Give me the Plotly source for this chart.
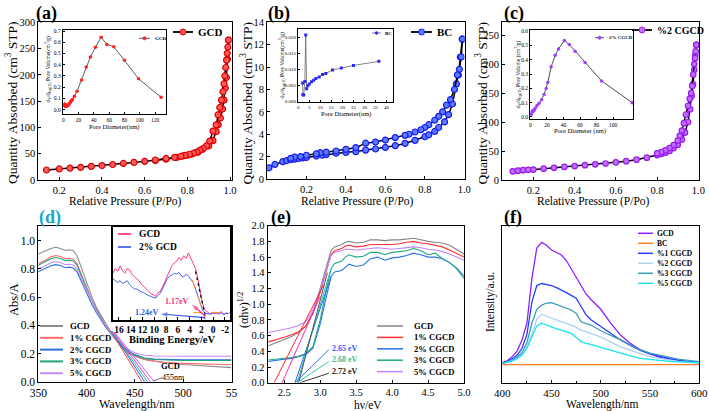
import plotly.graph_objects as go

W, H = 709, 411
SERIF = "Liberation Serif"

# ===================== DATA =====================
# (a) GCD N2 isotherm
a_ads_p = [0.14, 0.20, 0.25, 0.30, 0.35, 0.40, 0.45, 0.50, 0.55, 0.60, 0.65, 0.70, 0.75, 0.78, 0.80, 0.82, 0.85, 0.87, 0.90, 0.92, 0.935, 0.945, 0.955, 0.965, 0.972, 0.978, 0.983, 0.988, 0.993]
a_ads_q = [19, 21, 22.5, 24, 26, 27.5, 29.5, 31.5, 33.5, 35.5, 37, 39.5, 43, 46, 47, 49, 53, 58, 65, 75, 92, 105, 118, 135, 152, 175, 195, 230, 266]
a_des_p = [0.993, 0.99, 0.987, 0.984, 0.98, 0.976, 0.972, 0.967, 0.96, 0.952, 0.944, 0.935, 0.92, 0.905, 0.89, 0.875, 0.86, 0.845, 0.83, 0.81, 0.79, 0.77, 0.74, 0.70, 0.65]
a_des_q = [266, 253, 241, 228, 214, 198, 183, 168, 152, 138, 124, 105, 93, 74, 65, 60, 57, 53, 51, 49, 47, 45, 43, 41, 38]
# (a) inset pore size distribution
a_ins_d = [1.5, 2.0, 2.5, 3.0, 3.5, 4.0, 4.5, 5.0, 6.0, 7.0, 8.0, 9.0, 10.0, 11.0, 12.0, 14.5, 18.0, 24.0, 30.0, 35.5, 42.0, 49.5, 57.0, 66.0, 80.0, 98.5, 128.0]
a_ins_v = [0.04, 0.05, 0.03, 0.045, 0.028, 0.04, 0.03, 0.035, 0.04, 0.045, 0.055, 0.065, 0.075, 0.085, 0.09, 0.12, 0.165, 0.265, 0.38, 0.47, 0.555, 0.645, 0.58, 0.56, 0.44, 0.275, 0.11]

# (b) BC isotherm
b_ads_p = [0.01, 0.04, 0.08, 0.10, 0.12, 0.14, 0.16, 0.18, 0.20, 0.25, 0.28, 0.30, 0.35, 0.40, 0.45, 0.50, 0.55, 0.60, 0.65, 0.70, 0.75, 0.80, 0.82, 0.85, 0.87, 0.90, 0.92, 0.94, 0.96, 0.97, 0.98, 0.99]
b_ads_q = [1.0, 1.3, 1.55, 1.65, 1.72, 1.78, 1.83, 1.88, 1.93, 2.05, 2.12, 2.18, 2.3, 2.38, 2.45, 2.58, 2.68, 2.82, 2.98, 3.18, 3.45, 3.78, 3.95, 4.25, 4.6, 5.1, 5.75, 6.7, 8.5, 9.3, 10.9, 12.5]
b_des_p = [0.99, 0.985, 0.975, 0.965, 0.95, 0.93, 0.91, 0.89, 0.87, 0.85, 0.82, 0.80, 0.78, 0.75, 0.72, 0.70, 0.65, 0.60, 0.55, 0.50, 0.45, 0.40, 0.35, 0.30, 0.27, 0.25, 0.20, 0.17, 0.14, 0.12]
b_des_q = [12.5, 10.9, 9.8, 9.3, 8.0, 7.1, 6.6, 6.0, 5.6, 5.25, 4.85, 4.6, 4.4, 4.2, 4.0, 3.9, 3.7, 3.48, 3.3, 3.2, 2.8, 2.65, 2.5, 2.4, 2.35, 2.25, 2.12, 2.0, 1.95, 1.85]
# (b) inset
b_ins_d = [2.0, 2.1, 2.5, 3.0, 3.4, 3.8, 4.3, 5.0, 6.0, 7.0, 8.0, 9.5, 11.0, 12.5, 15.5, 19.5, 25.0, 36.5]
b_ins_v = [0.0058, 0.0022, 0.0021, 0.0063, 0.0208, 0.0040, 0.0050, 0.0055, 0.0062, 0.0067, 0.0072, 0.0077, 0.0085, 0.0088, 0.0099, 0.0105, 0.0113, 0.0126]

# (c) 2% CGCD isotherm
c_ads_p = [0.10, 0.125, 0.15, 0.175, 0.20, 0.25, 0.30, 0.35, 0.40, 0.45, 0.50, 0.55, 0.60, 0.65, 0.70, 0.75, 0.80, 0.82, 0.84, 0.86, 0.88, 0.90, 0.92, 0.935, 0.95, 0.96, 0.967, 0.974, 0.98, 0.985, 0.99]
c_ads_q = [15, 16, 17, 17.5, 18, 19.5, 21, 22.5, 24, 25.5, 27, 28.5, 30.5, 32.5, 35, 38.5, 43, 45, 47, 50, 55, 61, 70, 82, 100, 122, 145, 165, 190, 215, 233]
c_des_p = [0.99, 0.987, 0.984, 0.98, 0.975, 0.97, 0.965, 0.958, 0.95, 0.94, 0.93, 0.92, 0.91, 0.90, 0.88, 0.86, 0.84, 0.82, 0.80]
c_des_q = [233, 222, 210, 200, 182, 162, 150, 140, 128, 113, 98, 85, 76, 68, 60, 55, 51, 48, 46]
# (c) inset
c_ins_d = [1.2, 2.0, 2.8, 3.6, 4.8, 6.0, 8.0, 10.5, 13.5, 16.5, 19.0, 21.0, 25.0, 30.0, 34.0, 41.0, 47.0, 54.0, 66.0, 86.0, 123.0]
c_ins_v = [0.02, 0.035, 0.045, 0.04, 0.05, 0.063, 0.08, 0.096, 0.12, 0.157, 0.198, 0.24, 0.35, 0.43, 0.475, 0.534, 0.506, 0.459, 0.38, 0.252, 0.10]

# (d) UV-vis absorbance
d_names = ["GCD", "1% CGCD", "2% CGCD", "3% CGCD", "5% CGCD"]
d_colors = ["#8c8c8c", "#ff6b6b", "#2f6fdc", "#22a37c", "#c48cf2"]
d_wl = [350, 357, 363, 368, 373, 378, 382, 386, 390, 395, 400, 405, 410, 415, 420, 425, 430, 435, 440, 445, 450, 455, 460, 470, 480, 500, 520, 550]
d_gcd = [0.905, 0.925, 0.945, 0.953, 0.945, 0.930, 0.935, 0.930, 0.895, 0.80, 0.70, 0.61, 0.53, 0.465, 0.41, 0.355, 0.30, 0.255, 0.22, 0.195, 0.18, 0.168, 0.158, 0.145, 0.135, 0.122, 0.113, 0.10]
d_p1 = [0.838, 0.860, 0.885, 0.895, 0.888, 0.872, 0.875, 0.870, 0.840, 0.755, 0.665, 0.585, 0.515, 0.455, 0.40, 0.35, 0.305, 0.26, 0.225, 0.20, 0.182, 0.168, 0.158, 0.145, 0.138, 0.130, 0.125, 0.12]
d_p2 = [0.780, 0.800, 0.822, 0.830, 0.824, 0.808, 0.812, 0.806, 0.780, 0.705, 0.625, 0.555, 0.49, 0.435, 0.385, 0.34, 0.30, 0.265, 0.235, 0.21, 0.192, 0.178, 0.168, 0.160, 0.157, 0.155, 0.155, 0.155]
d_p3 = [0.825, 0.848, 0.872, 0.880, 0.874, 0.858, 0.862, 0.856, 0.828, 0.745, 0.66, 0.58, 0.51, 0.45, 0.395, 0.345, 0.30, 0.262, 0.23, 0.205, 0.188, 0.175, 0.165, 0.157, 0.153, 0.150, 0.150, 0.150]
d_p5 = [0.800, 0.820, 0.843, 0.850, 0.845, 0.830, 0.833, 0.828, 0.800, 0.725, 0.645, 0.572, 0.505, 0.448, 0.395, 0.348, 0.308, 0.275, 0.245, 0.222, 0.205, 0.195, 0.188, 0.182, 0.180, 0.180, 0.180, 0.180]
# (d) absorption-edge tangents: x-intercepts and upper anchor points
d_tan_x0 = [457, 460, 463, 466, 470]
d_tan_x1 = [425, 426, 427, 428, 429]
d_tan_y1 = [0.36, 0.36, 0.35, 0.35, 0.35]
d_tan_colors = ["#ff3b3b", "#1f5fff", "#1fbf8f", "#ff33cc", "#b266ff"]

# (d) inset: XPS valence band
be_x = [17.0, 16.6, 16.2, 15.8, 15.4, 15.0, 14.6, 14.2, 13.8, 13.4, 13.0, 12.6, 12.2, 11.8, 11.4, 11.0, 10.6, 10.2, 9.8, 9.4, 9.0, 8.6, 8.2, 7.8, 7.4, 7.0, 6.6, 6.2, 5.8, 5.4, 5.0, 4.6, 4.2, 3.8, 3.4, 3.0, 2.6, 2.2, 1.8, 1.4, 1.0, 0.6, 0.2, -0.2, -0.6, -1.0, -1.4, -1.8, -2.2, -2.6]
be_gcd = [0.50, 0.55, 0.52, 0.58, 0.53, 0.50, 0.55, 0.54, 0.49, 0.47, 0.44, 0.42, 0.38, 0.36, 0.33, 0.31, 0.28, 0.27, 0.25, 0.29, 0.30, 0.35, 0.41, 0.47, 0.53, 0.58, 0.61, 0.63, 0.67, 0.64, 0.69, 0.66, 0.72, 0.66, 0.61, 0.55, 0.44, 0.30, 0.17, 0.10, 0.08, 0.065, 0.06, 0.08, 0.06, 0.07, 0.085, 0.05, 0.07, 0.06]
be_2gcd = [0.44, 0.42, 0.40, 0.42, 0.39, 0.40, 0.42, 0.38, 0.36, 0.33, 0.33, 0.31, 0.30, 0.29, 0.27, 0.26, 0.25, 0.24, 0.23, 0.26, 0.28, 0.33, 0.38, 0.44, 0.47, 0.48, 0.50, 0.49, 0.51, 0.47, 0.46, 0.49, 0.47, 0.43, 0.40, 0.33, 0.25, 0.16, 0.10, 0.07, 0.065, 0.055, 0.07, 0.06, 0.075, 0.06, 0.07, 0.055, 0.07, 0.065]
be_names = ["GCD", "2% GCD"]
be_colors = ["#ff3d8b", "#4a62f0"]
# (d) inset arrows (tail -> head) and labels
be_arrow_tail = [(1.3, 0.035), (1.4, 0.02)]
be_arrow_head = [(3.6, 0.16), (8.9, 0.06)]
be_arrow_colors = ["#ff2a7a", "#3a55e8"]
be_arrow_labels = ["1.17eV", "1.24eV"]
be_label_pos = [(6.1, 0.19), (11.3, 0.075)]

# (e) Tauc plot
e_names = ["GCD", "1% CGCD", "2% CGCD", "3% CGCD", "5% CGCD"]
e_colors = ["#858585", "#ff3030", "#2a72e6", "#20a884", "#c084ff"]
e_ev = [2.28, 2.4, 2.5, 2.6, 2.7, 2.8, 2.9, 3.0, 3.1, 3.15, 3.2, 3.3, 3.35, 3.4, 3.5, 3.6, 3.7, 3.8, 3.9, 4.0, 4.1, 4.2, 4.3, 4.4, 4.5, 4.6, 4.7, 4.8, 4.9, 5.0]
e_gcd = [0.47, 0.51, 0.55, 0.59, 0.64, 0.72, 0.90, 1.20, 1.52, 1.68, 1.73, 1.76, 1.79, 1.80, 1.78, 1.79, 1.82, 1.82, 1.81, 1.82, 1.82, 1.83, 1.84, 1.82, 1.80, 1.79, 1.78, 1.75, 1.70, 1.64]
e_p1 = [0.52, 0.55, 0.58, 0.61, 0.65, 0.72, 0.88, 1.15, 1.47, 1.63, 1.68, 1.71, 1.74, 1.75, 1.73, 1.74, 1.76, 1.76, 1.76, 1.76, 1.77, 1.79, 1.80, 1.78, 1.77, 1.75, 1.73, 1.69, 1.65, 1.60]
e_p2 = [0.27, 0.29, 0.30, 0.31, 0.33, 0.36, 0.44, 0.75, 1.15, 1.35, 1.41, 1.43, 1.47, 1.51, 1.48, 1.50, 1.58, 1.60, 1.56, 1.59, 1.60, 1.62, 1.65, 1.63, 1.60, 1.60, 1.58, 1.53, 1.46, 1.36]
e_p3 = [0.29, 0.30, 0.31, 0.32, 0.34, 0.37, 0.46, 0.80, 1.25, 1.45, 1.52, 1.55, 1.60, 1.63, 1.60, 1.61, 1.66, 1.66, 1.63, 1.66, 1.67, 1.68, 1.71, 1.68, 1.63, 1.65, 1.58, 1.53, 1.45, 1.33]
e_p5 = [0.64, 0.66, 0.68, 0.70, 0.73, 0.78, 0.93, 1.18, 1.48, 1.62, 1.66, 1.68, 1.70, 1.70, 1.69, 1.70, 1.71, 1.72, 1.71, 1.70, 1.71, 1.72, 1.73, 1.72, 1.70, 1.69, 1.67, 1.64, 1.60, 1.56]
# (e) band-gap extrapolation lines
e_tan_x0 = [2.36, 2.47, 2.65, 2.68, 2.70]
e_tan_x1 = [3.05, 3.00, 3.15, 3.15, 3.10]
e_tan_y1 = [1.25, 1.10, 1.35, 1.45, 1.40]
e_tan_colors = ["#ff2a2a", "#ff2aa8", "#1f5fff", "#1fc3a0", "#555555"]
e_gap_vals = [2.65, 2.68, 2.72]
e_gap_labels = ["2.65 eV", "2.68 eV", "2.72 eV"]
e_gap_label_y = [0.44, 0.29, 0.14]
e_gap_colors = ["#1f5fff", "#1fc3a0", "#222222"]

# (f) PL spectra
f_names = ["GCD", "BC", "%1 CGCD", "%2 CGCD", "%3 CGCD", "%5 CGCD"]
f_colors = ["#8f1fff", "#ff7f27", "#1f3fff", "#a9d3f0", "#3a9cbc", "#19e3f0"]
f_wl = [400, 405, 410, 415, 420, 425, 430, 435, 440, 445, 450, 455, 460, 465, 470, 475, 480, 485, 490, 500, 510, 520, 530, 540, 550, 560, 570, 580, 590, 600]
f_gcd = [1.7, 3, 6, 10, 18, 30, 62, 84, 88, 86, 82.5, 81, 79, 75, 69, 62, 56, 51, 47, 40, 30, 21.5, 15.5, 11, 8, 5.5, 4.2, 3.1, 2.4, 1.9]
f_bc = [0.3, 0.3, 0.3, 0.3, 0.3, 0.3, 0.3, 0.3, 0.3, 0.3, 0.3, 0.3, 0.3, 0.3, 0.3, 0.3, 0.3, 0.3, 0.3, 0.3, 0.3, 0.3, 0.3, 0.3, 0.3, 0.3, 0.3, 0.3, 0.3, 0.3]
f_p1 = [1.5, 2.5, 4.5, 7, 12, 22, 45, 57, 58.5, 58, 57, 55.5, 54, 52, 50, 48, 42, 36, 32.5, 27.5, 23, 18, 14, 10.5, 8, 6, 4.5, 3.2, 2.3, 1.7]
f_p2 = [1, 2, 3, 5, 8, 13, 22, 33, 36.5, 35, 33.5, 32.5, 31, 30, 28.7, 27, 25, 24, 22.7, 20, 16.5, 13, 10.5, 8, 6, 4.8, 3.5, 2.5, 1.8, 1.2]
f_p3 = [1.2, 2, 3.5, 5.5, 9, 16, 30, 40, 43, 44.5, 44.7, 43.5, 42.3, 41, 39.5, 37, 31, 29.7, 28.7, 24.6, 21.5, 18, 14.5, 10.8, 8.5, 7.2, 5.5, 4, 3, 2.4]
f_p5 = [1, 1.8, 3, 4.5, 7, 12, 20, 28, 30, 28.5, 27, 26, 25, 24, 22.7, 20, 16.7, 15.5, 14.8, 12.7, 10.5, 8.4, 6.5, 4.8, 4, 3.1, 2.6, 2.2, 1.9, 1.7]

# tick labels
ticks_a_x = [0.2, 0.4, 0.6, 0.8, 1.0]
ticks_a_y = [0, 50, 100, 150, 200, 250, 300]
ticks_b_y = [0, 2, 4, 6, 8, 10, 12, 14]
ticks_c_y = [0, 50, 100, 150, 200, 250]
ticks_d_x = [350, 400, 450, 500, 550]
ticks_d_xt = ["350", "400", "450", "500", "55"]
ticks_d_y = [0.0, 0.2, 0.4, 0.6, 0.8, 1.0]
ticks_e_x = [2.5, 3.0, 3.5, 4.0, 4.5, 5.0]
ticks_e_y = [0.0, 0.2, 0.4, 0.6, 0.8, 1.0, 1.2, 1.4, 1.6, 1.8, 2.0]
ticks_f_x = [400, 450, 500, 550, 600]
ticks_be_x = [16, 14, 12, 10, 8, 6, 4, 2, 0, -2]
ins_a_x = [0, 20, 40, 60, 80, 100, 120]
ins_a_y = [0.0, 0.1, 0.2, 0.3, 0.4, 0.5, 0.6, 0.7]
ins_b_x = [0, 5, 10, 15, 20, 25, 30, 35, 40]
ins_b_y = [0.000, 0.005, 0.010, 0.015, 0.020]
ins_c_x = [0, 20, 40, 60, 80, 100]
ins_c_y = [0.0, 0.1, 0.2, 0.3, 0.4, 0.5, 0.6]

# ===================== LAYOUT HELPERS =====================
def fx(px):
    return px / W


def fy(py):
    return 1 - py / H


layout = dict(width=W, height=H, margin=dict(l=0, r=0, t=0, b=0),
              paper_bgcolor="white", plot_bgcolor="rgba(0,0,0,0)",
              showlegend=False, font=dict(family=SERIF, color="black"))
shapes, annotations = [], []


def fmt(v, nd):
    return f"{v:.{nd}f}"


def add_axes(n, box, xr, yr, xt, xtt, yt, ytt, fs=11, bold=False, lw=1, ticklen=3, showy=True, xminor=None):
    x0, x1, y0, y1 = box
    sx = "" if n == 1 else str(n)
    tf = dict(family=SERIF, size=fs, color="black", weight="bold" if bold else "normal")
    common = dict(showline=True, linecolor="black", linewidth=lw, mirror=True,
                  ticks="inside", ticklen=ticklen, tickwidth=1, tickcolor="black",
                  showgrid=False, zeroline=False, tickfont=tf, automargin=False,
                  fixedrange=True, tickmode="array")
    xa = dict(common, domain=[fx(x0), fx(x1)], range=xr, anchor="y" + sx, tickvals=xt, ticktext=xtt)
    if xminor:
        xa["minor"] = dict(ticks="inside", dtick=xminor, ticklen=2, tickcolor="black")
    ya = dict(common, domain=[fy(y1), fy(y0)], range=yr, anchor="x" + sx, tickvals=yt, ticktext=ytt)
    if not showy:
        ya.update(showticklabels=False, ticks="")
    layout["xaxis" + sx] = xa
    layout["yaxis" + sx] = ya


fig = go.Figure()


def trace(n, x, y, color, width=1.0, mode="lines", marker=None, dash=None):
    sx = "" if n == 1 else str(n)
    fig.add_trace(go.Scatter(x=x, y=y, mode=mode, line=dict(color=color, width=width, dash=dash),
                             marker=marker, xaxis="x" + sx, yaxis="y" + sx, hoverinfo="skip"))


def text(s, px, py, size, color="black", bold=False, angle=0, xanchor="center"):
    annotations.append(dict(text=f"<b>{s}</b>" if bold else s, x=fx(px), y=fy(py), xref="paper", yref="paper",
                            xanchor=xanchor, yanchor="middle", showarrow=False, textangle=angle,
                            font=dict(family=SERIF, size=size, color=color)))


def legend(x0, x1, xt, y0, dy, names, colors, fs, lw=1.5, line_color=None, mcolors=None, mline=None, r=3):
    for i, (nm, c) in enumerate(zip(names, colors)):
        y = y0 + i * dy
        shapes.append(dict(type="line", xref="paper", yref="paper", x0=fx(x0), x1=fx(x1), y0=fy(y), y1=fy(y),
                           line=dict(color=line_color or c, width=lw)))
        if mcolors:
            xm = (x0 + x1) / 2
            shapes.append(dict(type="circle", xref="paper", yref="paper", x0=fx(xm - r), x1=fx(xm + r),
                               y0=fy(y + r), y1=fy(y - r), fillcolor=mcolors[i],
                               line=dict(color=mline[i], width=1)))
        text(nm, xt, y, fs, bold=True, xanchor="left")


# ===================== AXES =====================
add_axes(1, (38.3, 231.5, 22.3, 180.0), [0.1016, 1.007], [0, 300], ticks_a_x, [fmt(v, 1) for v in ticks_a_x],
         ticks_a_y, [str(v) for v in ticks_a_y], fs=10.5)
add_axes(2, (267.0, 464.5, 22.3, 179.0), [0.0, 1.001], [0, 14], ticks_a_x, [fmt(v, 1) for v in ticks_a_x],
         ticks_b_y, [str(v) for v in ticks_b_y], fs=10.5)
add_axes(3, (502.0, 699.0, 22.3, 180.0), [0.048, 1.003], [0, 272], ticks_a_x, [fmt(v, 1) for v in ticks_a_x],
         ticks_c_y, [str(v) for v in ticks_c_y], fs=10.5)
add_axes(4, (38.3, 231.5, 225.7, 381.7), [350, 550], [0, 1.106], ticks_d_x, ticks_d_xt,
         ticks_d_y, [fmt(v, 1) for v in ticks_d_y], fs=11.5)
add_axes(5, (267.7, 464.0, 225.7, 382.7), [2.27, 5.0], [0, 2.0], ticks_e_x, [fmt(v, 1) for v in ticks_e_x],
         ticks_e_y, [fmt(v, 1) for v in ticks_e_y], fs=10.5)
add_axes(6, (502.3, 699.3, 225.7, 382.7), [400, 600], [-12.7, 100], ticks_f_x, [str(v) for v in ticks_f_x],
         [], [], fs=11, showy=False, xminor=25)
# insets
add_axes(7, (62.7, 166.0, 30.0, 114.0), [-0.8, 134.4], [-0.038, 0.709], ins_a_x, [str(v) for v in ins_a_x],
         ins_a_y, [fmt(v, 1) for v in ins_a_y], fs=5.5, lw=0.8, ticklen=2)
add_axes(8, (298.0, 393.0, 29.3, 102.0), [-0.1, 42.9], [-0.0001, 0.0226], ins_b_x, [str(v) for v in ins_b_x],
         ins_b_y, [fmt(v, 3) for v in ins_b_y], fs=5, lw=0.8, ticklen=2)
add_axes(9, (530.0, 633.0, 30.0, 119.0), [-0.5, 124], [-0.014, 0.607], ins_c_x, [str(v) for v in ins_c_x],
         ins_c_y, [fmt(v, 1) for v in ins_c_y], fs=5.5, lw=0.8, ticklen=2)
add_axes(10, (113.0, 230.0, 227.0, 319.5), [17.0, -2.85], [0, 1.0], ticks_be_x, [str(v) for v in ticks_be_x],
         [], [], fs=9.5, bold=True, lw=1.5, showy=False)

# ===================== TRACES =====================
mk_a = dict(symbol="circle", size=6, color="#ff5a5a", line=dict(color="#e00000", width=1.2))
mk_b = dict(symbol="circle", size=6, color="#5a7dff", line=dict(color="#1a1aee", width=1.2))
mk_c = dict(symbol="circle", size=5.5, color="#c070ff", line=dict(color="#9a1cf0", width=1.2))
trace(1, a_ads_p, a_ads_q, "black", 1.5, "lines+markers", mk_a)
trace(1, a_des_p, a_des_q, "black", 1.5, "lines+markers", mk_a)
trace(2, b_ads_p, b_ads_q, "black", 1.5, "lines+markers", mk_b)
trace(2, b_des_p, b_des_q, "black", 1.5, "lines+markers", mk_b)
trace(3, c_ads_p, c_ads_q, "black", 1.5, "lines+markers", mk_c)
trace(3, c_des_p, c_des_q, "black", 1.5, "lines+markers", mk_c)

trace(7, a_ins_d, a_ins_v, "#333333", 0.8, "lines+markers", dict(size=3.5, color="#ff2020"))
trace(8, b_ins_d, b_ins_v, "#666666", 0.8, "lines+markers", dict(size=3, symbol="square", color="#2a2aff"))
trace(9, c_ins_d, c_ins_v, "#222222", 0.8, "lines+markers", dict(size=3.5, color="#a040ff"))

# (d)
for ys, c in zip([d_gcd, d_p1, d_p2, d_p3, d_p5], d_colors):
    trace(4, d_wl, ys, c, 1.1)
for x0, x1, y1, c in zip(d_tan_x0, d_tan_x1, d_tan_y1, d_tan_colors):
    trace(4, [x1, x0], [y1, 0.0], c, 1.0)
trace(4, [469, 478], [0.005, 0.028], "#444444", 0.8)

# (d) inset
trace(10, be_x, be_gcd, be_colors[0], 1.0)
trace(10, be_x, be_2gcd, be_colors[1], 1.0)
trace(10, [3.55, 1.3], [0.43, 0.0], "#ff9a2a", 1.0, dash="dash")
trace(10, [3.0, 1.4], [0.52, 0.05], "black", 1.2, dash="dot")
trace(10, [3.4, -2.85], [0.075, 0.075], "#ff9a2a", 1.0, dash="dash")
trace(10, [1.5, 1.5], [0.0, 0.07], "#6a4cff", 1.0, dash="dot")
for (tx, ty), (hx, hy), c in zip(be_arrow_tail, be_arrow_head, be_arrow_colors):
    trace(10, [tx, hx], [ty, hy], c, 1.2, "lines+markers",
          dict(symbol=["circle", "arrow"], size=[0, 7], angleref="previous", color=c, line=dict(width=0)))
for s, (lx, ly), c in zip(be_arrow_labels, be_label_pos, be_arrow_colors):
    annotations.append(dict(text=f"<b>{s}</b>", x=lx, y=ly, xref="x10", yref="y10", showarrow=False,
                            font=dict(family=SERIF, size=8, color=c)))

# (e)
for ys, c in zip([e_gcd, e_p1, e_p2, e_p3, e_p5], e_colors):
    trace(5, e_ev, ys, c, 1.1)
for x0, x1, y1, c in zip(e_tan_x0, e_tan_x1, e_tan_y1, e_tan_colors):
    trace(5, [x0, x1], [0.0, y1], c, 1.0)
for g, ly, c in zip(e_gap_vals, e_gap_label_y, e_gap_colors):
    trace(5, [g, 3.12], [0.0, ly - 0.02], c, 0.9)

# (f)
for ys, c in zip([f_gcd, f_bc, f_p1, f_p2, f_p3, f_p5], f_colors):
    trace(6, f_wl, ys, c, 1.3)

# ===================== ANNOTATIONS =====================
for lab, px, py, col in [("(a)", 46.5, 13.5, "black"), ("(b)", 278.5, 13.5, "black"), ("(c)", 513.5, 13.5, "black"),
                         ("(d)", 49.5, 217.5, "#1aa7c9"), ("(e)", 280.5, 217.5, "black"), ("(f)", 512.5, 217.5, "black")]:
    text(lab, px, py, 18, color=col, bold=True)

text("Quantity Absorbed (cm<sup>3</sup> STP)", 11, 103, 13.5, angle=-90)
text("Quantity Absorbed (cm<sup>3</sup> STP)", 246.5, 103, 13.5, angle=-90)
text("Quantity Absorbed (cm<sup>3</sup> STP)", 481.5, 103, 13.5, angle=-90)
text("Relative Pressure (P/Po)", 125, 201.5, 11.5)
text("Relative Pressure (P/Po)", 357, 201.5, 11.5)
text("Relative Pressure (P/Po)", 593, 201.5, 11.5)
text("Abs/A", 14, 300, 12.5, angle=-90)
text("Wavelength/nm", 137, 403.5, 12)
text("(αhν)<sup>1/2</sup>", 243, 310, 12, angle=-90)
text("hν/eV", 368, 404.5, 11.5)
text("Intensity/a.u.", 490, 302, 11.5, angle=-90)
text("Wavelength/nm", 602, 404.5, 11.5)
ins_ytitle = "d<sub>V</sub>/d<sub>log(D)</sub> Pore Volume(cm<sup>3</sup>/g)"
text(ins_ytitle, 47.5, 69, 5.5, angle=-90)
text("Pore Diameter(nm)", 114, 127, 6.5)
text(ins_ytitle, 281.5, 65, 5.5, angle=-90)
text("Pore Diameter(nm)", 346, 114, 6.5)
text("d<sub>V</sub>/d<sub>log(D)</sub> Pore Volume (cm<sup>3</sup>/g)", 517.5, 75, 5.5, angle=-90)
text("Pore Diameter (nm)", 580, 130.5, 6.5)
text("Binding Energy/eV", 172, 339, 10.5, bold=True)

annotations.append(dict(text="<b>GCD</b>", x=487, y=0.108, xref="x4", yref="y4", showarrow=False,
                        font=dict(family=SERIF, size=8.5, color="black")))
annotations.append(dict(text="455nm", x=490, y=0.03, xref="x4", yref="y4", showarrow=False,
                        font=dict(family=SERIF, size=8, color="black")))
for s, ly, c in zip(e_gap_labels, e_gap_label_y, e_gap_colors):
    annotations.append(dict(text=f"<b>{s}</b>", x=3.13, y=ly, xref="x5", yref="y5", xanchor="left",
                            showarrow=False, font=dict(family=SERIF, size=8, color=c)))

# ===================== LEGENDS =====================
legend(173, 193, 196, 32, 0, ["GCD"], ["black"], 11, lw=1.8, mcolors=["#ff5a5a"], mline=["#e00000"])
legend(411, 432, 435, 32, 0, ["BC"], ["black"], 11, lw=1.8, mcolors=["#5a7dff"], mline=["#1a1aee"])
legend(632, 652, 655, 30, 0, ["%2 CGCD"], ["black"], 10, lw=1.8, mcolors=["#c070ff"], mline=["#9a1cf0"])
legend(139, 150, 152.5, 38.3, 0, ["GCD"], ["#333333"], 5, lw=0.8, mcolors=["#ff2020"], mline=["#ff2020"], r=1.5)
legend(372, 381, 383, 33, 0, ["BC"], ["#666666"], 5, lw=0.8, mcolors=["#2a2aff"], mline=["#2a2aff"], r=1.3)
legend(595, 604, 606.5, 37.7, 0, ["2% CGCD"], ["#222222"], 5, lw=0.8, mcolors=["#a040ff"], mline=["#a040ff"], r=1.5)
legend(118, 131, 137, 234, 13, be_names, be_colors, 9.5, lw=1.8)
legend(40, 63, 68, 326, 11.8, d_names, d_colors, 8.8, lw=2)
legend(377, 403, 412, 326, 11.4, e_names, e_colors, 8.6, lw=1.5)
legend(638, 653, 655, 233.3, 10, f_names, f_colors, 7.5, lw=1.5)

layout["shapes"] = shapes
layout["annotations"] = annotations
fig.update_layout(**layout)
fig.write_html("out.html", config={"displayModeBar": False},
               post_script="document.body.style.margin='0';document.body.style.overflow='hidden';")
